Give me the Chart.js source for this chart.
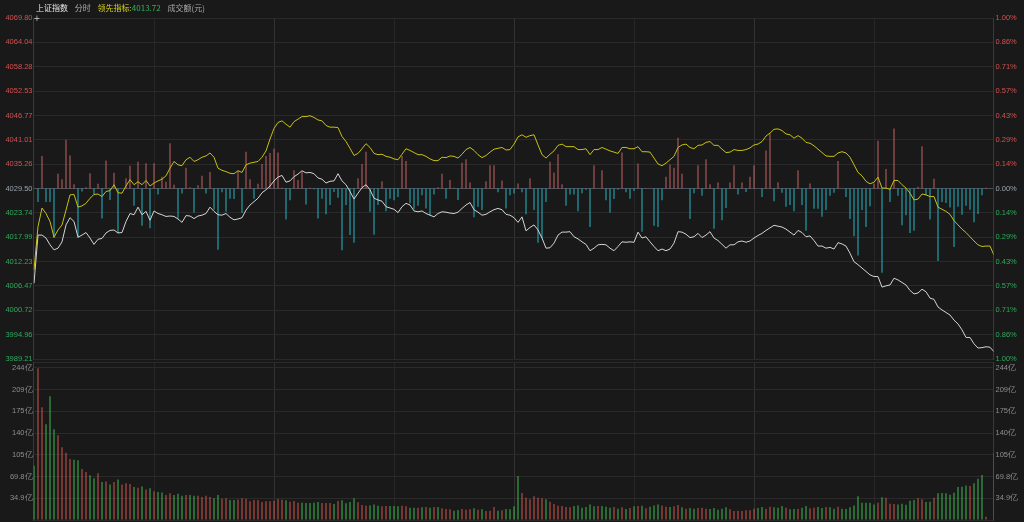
<!DOCTYPE html>
<html>
<head>
<meta charset="utf-8">
<script src="https://cdn.jsdelivr.net/npm/chart.js@4/dist/chart.umd.min.js"></script>
<style>
  html, body { margin: 0; padding: 0; background: #191919; }
  #wrap { position: relative; width: 1024px; height: 522px; overflow: hidden; background: #191919; }
  #priceChart { position: absolute; left: 0; top: 0; }
  #volChart { position: absolute; left: 0; top: 352px; }
  #title { position: absolute; left: 36px; top: 2px; font: 8px "Noto Sans CJK SC", sans-serif; line-height: 12px; white-space: nowrap; }
  #title span { margin-right: 5px; }
  #cross { position: absolute; left: 34px; top: 13px; font: 10px Arial, sans-serif; color: #bbb; }
</style>
</head>
<body>
<div id="wrap">
  <canvas id="priceChart" width="1024" height="372"></canvas>
  <canvas id="volChart" width="1024" height="180"></canvas>
  <div id="title">
    <span style="color:#e6e6e6">上证指数</span>
    <span style="color:#b0b0b0">分时</span>
    <span style="color:#d6cf1e;margin-right:0">领先指标:</span><span style="color:#2fb35c">4013.72</span>
    <span style="color:#a8a8a8">成交额(元)</span>
  </div>
  <div id="cross">+</div>
</div>
<script>
const prevClose = 4029.50;

// axis labels
const priceTicks = [4069.80, 4064.04, 4058.28, 4052.53, 4046.77, 4041.01, 4035.26, 4029.50,
  4023.74, 4017.99, 4012.23, 4006.47, 4000.72, 3994.96, 3989.21];
const pctTicks = ['1.00%', '0.86%', '0.71%', '0.57%', '0.43%', '0.29%', '0.14%', '0.00%',
  '0.14%', '0.29%', '0.43%', '0.57%', '0.71%', '0.86%', '1.00%'];
const volTicks = [34.9, 69.8, 104.7, 139.6, 174.5, 209.4, 244.3];
const volTickLabels = ['34.9亿', '69.8亿', '105亿', '140亿', '175亿', '209亿', '244亿'];
const timeGrid = [30, 60, 90, 120, 150, 180, 210];

// 上证指数, one value per minute 09:30 .. 15:00
const indexLine = [
  4007.1, 4018.5, 4018.5, 4017.8, 4016.2, 4015.0, 4015.4, 4016.9, 4020.9, 4022.6,
  4021.7, 4018.0, 4018.5, 4019.1, 4017.8, 4016.3, 4017.5, 4017.7, 4019.0, 4019.6,
  4019.7, 4019.0, 4019.1, 4021.7, 4023.6, 4023.3, 4025.1, 4023.3, 4024.1, 4022.0,
  4024.2, 4023.6, 4023.3, 4022.9, 4023.0, 4022.9, 4022.3, 4021.5, 4023.1, 4023.0,
  4022.4, 4023.0, 4023.2, 4023.6, 4025.1, 4024.1, 4023.3, 4023.2, 4023.6, 4022.7,
  4022.1, 4022.3, 4022.6, 4024.4, 4025.6, 4026.4, 4027.2, 4028.5, 4029.2, 4030.1,
  4031.3, 4032.2, 4032.6, 4031.0, 4031.3, 4032.3, 4032.9, 4033.7, 4033.2, 4033.3,
  4033.0, 4032.0, 4031.7, 4030.8, 4031.2, 4031.3, 4033.0, 4031.3, 4030.4, 4028.8,
  4027.0, 4028.4, 4029.7, 4030.4, 4029.2, 4027.2, 4026.8, 4026.5, 4025.2, 4024.9,
  4024.6, 4023.8, 4025.2, 4026.0, 4025.6, 4024.2, 4024.0, 4024.2, 4023.6, 4023.2,
  4022.8, 4023.6, 4024.0, 4023.9, 4023.7, 4023.6, 4023.9, 4024.8, 4025.6, 4026.2,
  4024.5, 4023.9, 4023.2, 4023.4, 4024.0, 4024.5, 4024.8, 4024.5, 4023.4, 4023.2,
  4022.6, 4021.5, 4022.8, 4019.5, 4020.3, 4020.9, 4019.7, 4017.8, 4015.4, 4015.5,
  4016.6, 4018.5, 4019.2, 4019.2, 4019.3, 4018.1, 4017.6, 4016.9, 4016.3, 4014.8,
  4015.4, 4016.2, 4016.3, 4016.2, 4015.4, 4014.8, 4015.8, 4016.9, 4016.8, 4016.9,
  4016.8, 4019.2, 4017.8, 4018.1, 4016.9, 4015.8, 4014.8, 4015.2, 4014.8, 4015.2,
  4016.6, 4019.3, 4019.2, 4018.7, 4017.9, 4018.1, 4018.9, 4017.9, 4018.5, 4019.3,
  4017.8, 4017.2, 4016.3, 4015.4, 4016.2, 4016.2, 4016.9, 4017.1, 4016.8, 4017.1,
  4017.8, 4018.4, 4018.9, 4019.6, 4020.2, 4020.8, 4020.6, 4020.4, 4019.9, 4019.2,
  4018.5, 4019.6, 4019.1, 4018.1, 4018.3, 4017.2, 4015.9, 4015.9, 4015.4, 4015.6,
  4015.2, 4016.7, 4016.4, 4015.9, 4014.2, 4012.2, 4011.5, 4010.7, 4009.9, 4009.1,
  4008.7, 4008.7, 4006.2, 4006.5, 4006.7, 4008.3, 4007.9, 4007.3, 4006.7, 4005.4,
  4004.6, 4004.8, 4005.7, 4005.1, 4003.6, 4003.3, 4001.5, 4000.8, 4000.2, 3999.6,
  3998.4, 3997.5, 3996.1, 3994.3, 3994.3, 3992.8, 3991.8, 3991.9, 3992.1, 3992.0,
  3990.9
];

// 领先指标
const leadLine = [
  4010.3, 4020.5, 4024.9, 4023.6, 4021.7, 4018.0, 4019.7, 4020.9, 4024.4, 4028.0,
  4028.1, 4025.1, 4025.4, 4026.0, 4027.2, 4028.1, 4028.2, 4027.6, 4028.8, 4029.0,
  4030.4, 4028.5, 4028.4, 4030.1, 4031.6, 4030.4, 4031.1, 4030.4, 4031.4, 4030.1,
  4030.8, 4031.3, 4031.7, 4032.5, 4034.3, 4035.9, 4035.1, 4034.9, 4036.3, 4036.9,
  4035.9, 4036.3, 4036.9, 4037.2, 4037.9, 4036.9, 4034.3, 4033.8, 4033.5, 4033.1,
  4033.0, 4033.7, 4033.3, 4035.1, 4035.5, 4035.7, 4035.9, 4036.9, 4038.4, 4041.2,
  4043.7, 4045.1, 4045.5, 4044.7, 4044.0, 4045.3, 4045.9, 4046.5, 4046.5, 4046.7,
  4046.3, 4045.7, 4045.5, 4044.4, 4044.0, 4044.0, 4043.9, 4041.8, 4040.6, 4039.0,
  4037.3, 4037.8, 4038.9, 4040.1, 4039.2, 4037.8, 4037.5, 4037.6, 4037.1, 4036.9,
  4036.5, 4036.3, 4037.6, 4038.9, 4038.5, 4038.0, 4037.5, 4037.5, 4037.1, 4036.5,
  4036.1, 4036.1, 4036.9, 4036.8, 4037.2, 4037.1, 4036.7, 4037.6, 4038.7, 4039.2,
  4038.5, 4037.5, 4036.8, 4037.3, 4038.1, 4038.8, 4039.0, 4039.2, 4038.6, 4038.7,
  4040.0, 4041.7, 4042.2, 4041.6, 4042.0, 4042.2, 4039.8, 4037.5, 4036.7, 4037.6,
  4038.4, 4039.7, 4040.0, 4039.4, 4039.4, 4039.4, 4038.7, 4038.7, 4038.9, 4037.5,
  4038.7, 4038.7, 4039.2, 4038.8, 4038.4, 4038.1, 4037.8, 4039.2, 4039.2, 4038.9,
  4038.9, 4039.4, 4038.2, 4038.2, 4038.1, 4036.7, 4035.3, 4034.9, 4035.5, 4036.3,
  4037.1, 4039.2, 4039.8, 4040.0, 4039.2, 4038.9, 4039.7, 4039.8, 4040.4, 4040.6,
  4039.7, 4039.7, 4038.8, 4038.0, 4038.1, 4038.7, 4038.5, 4038.5, 4038.7, 4039.1,
  4039.8, 4040.0, 4040.6, 4041.9, 4042.6, 4043.5, 4043.6, 4043.2, 4042.4, 4042.2,
  4041.4, 4042.0, 4041.4, 4040.4, 4040.2, 4039.6, 4038.8, 4038.0, 4037.2, 4037.1,
  4037.1, 4037.9, 4038.2, 4037.9, 4036.9, 4035.1, 4033.3, 4032.5, 4031.2, 4030.6,
  4031.0, 4032.2, 4029.6, 4029.6, 4029.3, 4031.4, 4031.4, 4030.4, 4029.6, 4028.4,
  4026.8, 4027.0, 4028.2, 4028.0, 4027.6, 4027.6, 4025.1, 4024.6, 4024.1, 4023.4,
  4021.9, 4020.9, 4019.9, 4019.1, 4018.1, 4017.1, 4016.2, 4015.8, 4015.9, 4015.9,
  4013.72
];

// red / cyan strength bars, offset from prevClose in index points
const strength = [
  0, -3.2, 7.7, -3.2, -3.2, -11.7, 3.5, 2.2, 11.5, 7.8,
  1.0, -11.7, -0.7, 0.3, 3.6, -1.3, 1.1, -7.1, 6.6, -2.7,
  3.7, -10.6, 0, 2.4, 5.4, -4.1, 6.3, -8.8, 6.0, -9.4,
  6.0, -1.4, 2.8, 1.6, 10.7, 0.9, -7.1, -1.2, 4.9, 0.3,
  -5.7, 0.8, 3.0, -1.2, 3.9, -5.0, -14.5, -0.9, -5.5, -2.4,
  -2.5, 4.2, -5.8, 8.7, 2.2, -2.4, 1.1, 5.8, 7.7, 8.4,
  9.4, 8.5, 0.2, -7.3, -2.8, 4.3, 2.0, 3.9, -3.8, 0.2,
  -0.2, -7.1, -2.4, -6.1, -3.9, -0.8, -2.2, -14.6, -3.9, -11.0,
  -12.8, 2.4, 5.8, 8.7, -5.5, -10.9, -3.9, 1.7, -5.4, -2.4,
  -2.8, -2.0, 7.7, 6.5, -3.5, -4.9, -4.1, -1.6, -4.7, -6.3,
  -1.4, 0.3, 3.5, -2.4, 2.0, 0.2, -2.7, 6.1, 6.9, 1.4,
  -6.8, -4.3, -5.1, 1.7, 5.5, 5.5, -0.9, 1.9, -4.7, -1.6,
  -1.2, 1.2, -0.9, -6.1, 2.4, -5.1, -12.8, -11.7, -3.2, 6.3,
  3.8, 8.1, 1.0, -4.1, -1.4, -1.4, -5.4, -1.1, -0.3, -9.1,
  5.5, 0, 4.3, -2.8, -5.7, -2.5, -0.3, 8.5, -0.9, -2.4,
  -0.6, 5.9, -10.2, 0.1, 0, -8.8, -9.1, -2.8, 2.8, 5.7,
  4.9, 12.0, 3.5, 0, -7.2, -1.1, 5.5, -1.7, 6.9, 1.0,
  -9.5, 1.4, -7.5, -4.6, 1.4, 5.5, -1.4, 1.4, -0.8, 2.8,
  5.5, 0, -2.0, 9.0, 13.0, -3.0, 1.5, -1.0, -4.3, -3.9,
  -5.4, 4.3, -3.9, -10.0, 1.2, -4.8, -4.8, -6.7, -5.1, -1.7,
  -1.0, 6.5, 0, -2.0, -7.2, -11.3, -15.8, -5.1, -9.1, -4.2,
  1.2, 11.3, -19.9, 4.6, -3.2, 14.2, -1.7, -8.7, -6.3, -10.5,
  -10.0, 0.4, 10.0, -1.6, -7.3, 2.3, -17.1, -3.2, -3.4, -4.5,
  -13.8, -4.3, -6.2, -4.1, -5.0, -8.0, -6.0, -1.6, 0.2, 0,
  0
];

// 成交额 (亿元) per minute
const volume = [
  87, 244, 181, 154, 199, 146, 136, 117, 108, 98,
  97, 96, 82, 77, 72, 67, 75, 61, 62, 57,
  61, 65, 57, 59, 58, 53, 52, 54, 49, 51,
  46, 45, 44, 40, 43, 40, 42, 39, 40, 40,
  39, 39, 37, 39, 37, 35, 40, 34, 35, 32,
  32, 33, 35, 34, 30, 32, 32, 29, 30, 30,
  31.0, 33.7, 32.6, 31.6, 29.4, 30.5, 27.8, 27.8, 27.3, 27.3,
  27.8, 28.9, 27.3, 27.3, 27.3, 25.7, 30.5, 31.6, 26.8, 28.9,
  34.8, 28.4, 24.1, 23.0, 23.5, 25.1, 23.0, 21.9, 22.5, 22.5,
  22.5, 21.9, 23.0, 21.9, 19.8, 19.8, 19.8, 20.3, 20.9, 19.8,
  20.9, 20.9, 18.7, 17.7, 17.1, 15.0, 16.1, 17.7, 16.6, 17.1,
  18.7, 16.6, 17.1, 14.4, 15.0, 20.9, 15.0, 15.5, 17.7, 17.1,
  21.9, 70.6, 43.3, 35.8, 33.2, 38.0, 35.8, 34.8, 33.2, 29.4,
  25.7, 23.0, 22.5, 20.9, 20.3, 22.5, 23.5, 19.8, 20.9, 25.1,
  21.9, 22.5, 22.5, 21.4, 19.8, 20.9, 18.2, 20.3, 17.7, 19.3,
  21.9, 22.5, 23.0, 18.7, 21.4, 23.5, 25.1, 23.5, 21.4, 20.9,
  21.9, 24.1, 20.3, 18.2, 19.3, 18.2, 19.3, 19.8, 18.2, 17.7,
  19.3, 16.6, 18.2, 20.3, 17.1, 14.4, 15.0, 14.4, 15.5, 15.5,
  18.2, 19.3, 20.9, 18.2, 21.4, 20.3, 19.8, 22.5, 19.8, 17.1,
  17.7, 17.7, 19.8, 22.5, 18.7, 19.8, 20.9, 19.3, 20.9, 20.3,
  18.2, 21.4, 18.2, 17.7, 20.3, 23.5, 38.0, 27.8, 27.8, 27.8,
  25.1, 27.8, 36.4, 35.8, 26.2, 25.7, 25.1, 26.2, 24.6, 31.0,
  32.1, 35.3, 33.2, 28.9, 29.4, 35.8, 42.8, 43.3, 42.8, 40.7,
  43.9, 53.0, 53.5, 55.6, 54.6, 58.9, 66.3, 72.2, 5.4, 0,
  107.5
];

// r = up minute, g = down minute
const volDir = (
  "grrgggrrrr" + "ggrrggrgrg" + "rgrrrgrgrg" + "rggrrgggrg" + "grrrrggrrg" + "grrrrrrrrr" +
  "rrrgrrrggg" + "ggrrrgrggg" + "grrrgggrrg" + "ggrrggrgrg" + "rgrrrggrrr" + "grgrrrgrgg" +
  "ggrrrrrrgr" + "rrrrrggggg" + "grgggrgrgr" + "grgrgggrrg" + "rrgrggrrrg" + "ggggrrrrrr" +
  "rggrrgggrg" + "grggrrggrg" + "grgggggggg" + "grgrrrgggg" + "grrggrgggg" + "ggggrgggrg" + "g"
).split("");

const RED = "#d65050";
const GREEN = "#2eaa5c";
const GRAY = "#9aa3ab";
const GRID = "#2a2a2a";
const BORDER = "#3a3a3a";

Chart.defaults.font.family = 'Arial, "Liberation Sans", sans-serif';
Chart.defaults.font.size = 7.5;

function setTicks(values) {
  return (scale) => { scale.ticks = values.map((v) => ({ value: v })); };
}
function setWidth(w) {
  return (scale) => { scale.width = w; };
}

// a shift of 1/8 minute (half a pixel) keeps the 1px bars on whole pixels
function timeAxis() {
  return {
    type: "linear",
    min: -0.125,
    max: 239.875,
    offset: false,
    afterBuildTicks: setTicks(timeGrid),
    ticks: { display: false },
    grid: {
      offset: false,
      drawTicks: false,
      color: (ctx) => (timeGrid[ctx.index] % 60 === 0 ? "#323232" : "#262626"),
    },
    border: { display: false },
  };
}

function tickColor(ctx) {
  if (ctx.index < 7) return RED;
  if (ctx.index === 7) return GRAY;
  return GREEN;
}

new Chart(document.getElementById("priceChart"), {
  data: {
    datasets: [
      {
        type: "line",
        label: "上证指数",
        data: indexLine.map((v, i) => ({ x: i, y: v })),
        borderColor: "#d4d4d4",
        borderWidth: 1,
        pointRadius: 0,
        order: 1,
      },
      {
        type: "line",
        label: "领先指标",
        data: leadLine.map((v, i) => ({ x: i, y: v })),
        borderColor: "#c8c014",
        borderWidth: 1,
        pointRadius: 0,
        order: 2,
      },
      {
        type: "bar",
        label: "strength",
        data: strength.map((v, i) => ({ x: i, y: [prevClose, prevClose + v] })),
        backgroundColor: strength.map((v) => (v >= 0 ? "#c46464" : "#24b6c6")),
        barThickness: 1,
        inflateAmount: 0,
        order: 3,
      },
    ],
  },
  options: {
    responsive: false,
    animation: false,
    devicePixelRatio: 1,
    layout: { padding: { top: 18, bottom: 13, left: 0.5, right: 0 } },
    plugins: { legend: { display: false }, tooltip: { enabled: false } },
    scales: {
      x: timeAxis(),
      y: {
        position: "left",
        min: priceTicks[priceTicks.length - 1],
        max: priceTicks[0],
        afterBuildTicks: setTicks(priceTicks),
        afterFit: setWidth(33),
        ticks: {
          autoSkip: false,
          padding: 1,
          color: tickColor,
          callback: (v, i) => priceTicks[i].toFixed(2),
        },
        grid: {
          drawTicks: false,
          color: (ctx) => (ctx.index === 7 ? "#4b5159" : GRID),
        },
        border: { color: BORDER },
      },
      yr: {
        position: "right",
        min: priceTicks[priceTicks.length - 1],
        max: priceTicks[0],
        afterBuildTicks: setTicks(priceTicks),
        afterFit: setWidth(30.5),
        ticks: {
          autoSkip: false,
          padding: 2,
          color: tickColor,
          callback: (v, i) => pctTicks[i],
        },
        grid: { display: false, drawTicks: false },
        border: { color: BORDER },
      },
    },
  },
});

const volMax = 253.9;
const volTickValues = [0, ...volTicks, volMax];
const volLabels = ["", ...volTickLabels, ""];

new Chart(document.getElementById("volChart"), {
  type: "bar",
  data: {
    datasets: [
      {
        label: "成交额",
        data: volume.map((v, i) => ({ x: i, y: v })),
        backgroundColor: volDir.map((d) => (d === "r" ? "#d4564f" : "#40bb52")),
        barThickness: 1,
        inflateAmount: 0,
      },
    ],
  },
  options: {
    responsive: false,
    animation: false,
    devicePixelRatio: 1,
    layout: { padding: { top: 10, bottom: 12, left: 0.5, right: 0 } },
    plugins: { legend: { display: false }, tooltip: { enabled: false } },
    scales: {
      x: timeAxis(),
      y: {
        position: "left",
        min: 0,
        max: volMax,
        afterBuildTicks: setTicks(volTickValues),
        afterFit: setWidth(33),
        ticks: {
          autoSkip: false,
          padding: 1,
          color: "#8e8e8e",
          callback: (v, i) => volLabels[i],
        },
        grid: { drawTicks: false, color: GRID },
        border: { color: BORDER },
      },
      yr: {
        position: "right",
        min: 0,
        max: volMax,
        afterBuildTicks: setTicks(volTickValues),
        afterFit: setWidth(30.5),
        ticks: {
          autoSkip: false,
          padding: 2,
          color: "#8e8e8e",
          callback: (v, i) => volLabels[i],
        },
        grid: { display: false, drawTicks: false },
        border: { color: BORDER },
      },
    },
  },
});
</script>
</body>
</html>
